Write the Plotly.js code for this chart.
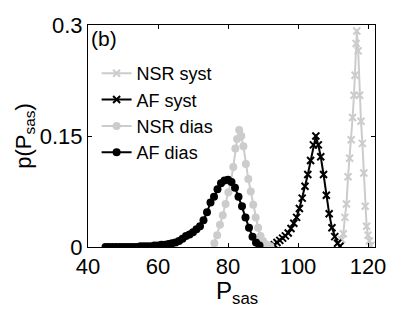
<!DOCTYPE html>
<html><head><meta charset="utf-8">
<script src="https://cdn.plot.ly/plotly-3.0.1.min.js"></script>
<style>html,body{margin:0;padding:0;background:#fff}#c{width:415px;height:313px}</style>
</head><body><div id="c"></div>
<script>
const nsrSystX = [112.5,112.95,113.4,113.85,114.3,114.75,115.2,115.6,116.0,116.3,116.6,116.8,117.2,117.6,118.0,118.4,118.8,119.2,119.6,120.0,120.4,120.8];
const nsrSystY = [0.010,0.018,0.040,0.058,0.095,0.120,0.145,0.175,0.205,0.232,0.275,0.292,0.265,0.205,0.170,0.140,0.100,0.055,0.028,0.016,0.008,0.002];
const afSystX = [93.2,94.0,94.8,95.6,96.4,97.2,98.0,98.8,99.6,100.4,101.2,102.0,102.8,103.6,104.4,105.1,105.8,106.5,107.3,108.1,108.9,109.7,110.5,111.3,112.0];
const afSystY = [0.003,0.006,0.009,0.012,0.015,0.019,0.025,0.032,0.040,0.052,0.066,0.082,0.098,0.117,0.138,0.150,0.138,0.122,0.098,0.070,0.045,0.026,0.014,0.005,0.001];
const nsrDiasX = [76.1,76.9,77.7,78.5,79.3,80.1,80.8,81.5,82.1,82.6,83.2,83.8,84.4,85.1,85.8,86.5,87.2,87.9,88.6,89.3,90.0,90.7,91.4,92.1];
const nsrDiasY = [0.005,0.016,0.030,0.043,0.058,0.074,0.088,0.108,0.133,0.146,0.158,0.150,0.136,0.112,0.092,0.075,0.057,0.040,0.026,0.015,0.008,0.004,0.002,0.001];
const afDiasX = [45,46,47,48,49,50,51,52,53,54,55,56,57,58,59,60,61,62,63,64,65,66,67,68,69,70,71,72,73,74,75,76,77,78,79,80,81,82,83,84,85,86,87,88,89];
const afDiasY = [0.000,0.000,0.000,0.000,0.000,0.000,0.000,0.000,0.000,0.000,0.001,0.001,0.001,0.001,0.002,0.002,0.003,0.003,0.004,0.005,0.006,0.008,0.011,0.015,0.017,0.020,0.024,0.028,0.036,0.047,0.060,0.068,0.078,0.086,0.090,0.091,0.088,0.080,0.068,0.055,0.040,0.026,0.014,0.006,0.002];
const xTicks = [40,60,80,100,120];
const yTicks = [0,0.15,0.3];
const yTickText = ['0','0.15','0.3'];

const gray = 'rgb(204,204,204)';
const traces = [
  {x:nsrSystX,y:nsrSystY,name:'NSR syst',mode:'lines+markers',line:{color:gray,width:2},
   marker:{symbol:'x-thin',size:7,color:gray,line:{color:gray,width:2}}},
  {x:afSystX,y:afSystY,name:'AF syst',mode:'lines+markers',line:{color:'black',width:2},
   marker:{symbol:'x-thin',size:7,color:'black',line:{color:'black',width:2}}},
  {x:nsrDiasX,y:nsrDiasY,name:'NSR dias',mode:'lines+markers',line:{color:gray,width:2},
   marker:{symbol:'circle',size:8,color:gray}},
  {x:afDiasX,y:afDiasY,name:'AF dias',mode:'lines+markers',line:{color:'black',width:2},
   marker:{symbol:'circle',size:8,color:'black'}}
];
const fam = 'Liberation Sans, Arial, sans-serif';
const axisCommon = {showgrid:false,zeroline:false,showline:true,linecolor:'black',linewidth:1,
  mirror:'ticks',ticks:'inside',ticklen:4,tickcolor:'black',
  tickfont:{family:fam,size:22,color:'black'}};
const layout = {
  width:415,height:313,margin:{l:88,r:40,t:25,b:66},
  paper_bgcolor:'white',plot_bgcolor:'white',
  font:{family:fam,color:'black'},
  xaxis:Object.assign({},axisCommon,{range:[40,122],tickvals:xTicks}),
  yaxis:Object.assign({},axisCommon,{range:[0,0.3],tickvals:yTicks,ticktext:yTickText,
    title:{text:'p(P<sub>sas</sub>)',font:{family:fam,size:22,color:'black'},standoff:2}}),
  showlegend:true,
  legend:{x:0.03,y:0.865,xanchor:'left',yanchor:'top',bgcolor:'rgba(0,0,0,0)',
    font:{family:fam,size:18,color:'black'},tracegroupgap:0,itemwidth:30},
  annotations:[
    {text:'(b)',xref:'paper',yref:'paper',x:0.005,y:1.0,xanchor:'left',yanchor:'top',
     showarrow:false,font:{family:fam,size:21,color:'black'}},
    {text:'P<sub>sas</sub>',xref:'paper',yref:'paper',x:0.518,y:-0.128,xanchor:'center',yanchor:'top',
     showarrow:false,font:{family:fam,size:24,color:'black'}}
  ]
};
Plotly.newPlot('c',traces,layout,{displayModeBar:false,staticPlot:true});
</script></body></html>
